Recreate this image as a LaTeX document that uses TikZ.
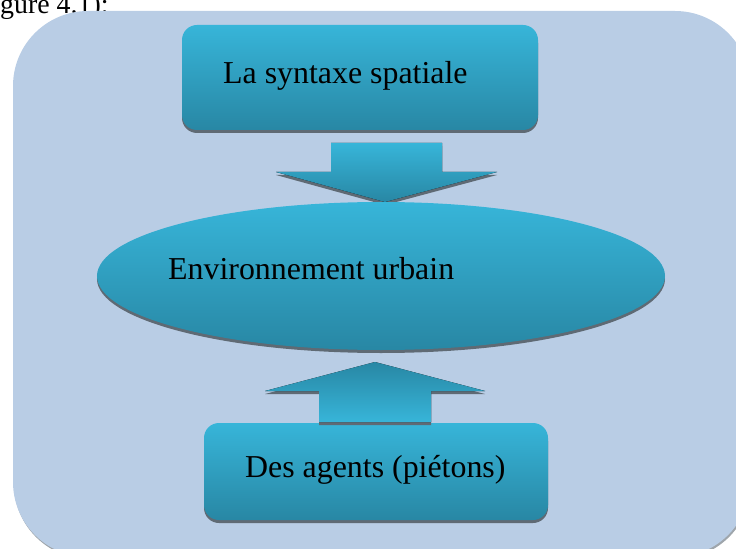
\documentclass[tikz,border=0pt]{standalone}
\usepackage{fontspec}
\setmainfont{Liberation Serif}
\usetikzlibrary{shapes.geometric}

\definecolor{panel}{HTML}{B9CDE5}
\definecolor{boxtop}{HTML}{37B5D9}
\definecolor{boxbot}{HTML}{2887A4}
\definecolor{shadowgrey}{HTML}{5F6A74}

\tikzset{
  dropshade/.style={preaction={fill=shadowgrey, transform canvas={yshift=-3bp}}},
  blockfill/.style={top color=boxtop, bottom color=boxbot, dropshade},
  blockfillup/.style={top color=boxbot, bottom color=boxtop, dropshade},
  boxshape/.style={rectangle, rounded corners=15bp, inner sep=0pt, blockfill},
  label/.style={inner sep=0pt, anchor=base west, font=\fontsize{32}{36}\selectfont},
}

\begin{document}
\begin{tikzpicture}[x=1bp, y=-1bp]
\useasboundingbox (0,0) rectangle (736,549);
\clip (0,0) rectangle (736,549);

% caption line above the panel
\node[inner sep=0pt, anchor=base west, font=\fontsize{28}{30}\selectfont] (caption) at (0,14) {gure 4.1):};

% light blue panel with a faint shadow along its lower edge
\fill[shadowgrey, opacity=0.6, rounded corners=75bp, transform canvas={xshift=1bp, yshift=-2bp}]
  (13,11) rectangle (750,557);
\fill[panel, rounded corners=75bp] (13,11) rectangle (750,557);

% top box
\node[boxshape, minimum width=356bp, minimum height=105bp] (syntax) at (360,77.5) {};
\node[label] (syntaxtext) at (223,84) {La syntaxe spatiale};

% down arrow
\fill[blockfill] (331,143) -- (442,143) -- (442,172) -- (497,172) -- (385,202)
  -- (276,172) -- (331,172) -- cycle;

% ellipse
\node[ellipse, inner sep=0pt, minimum width=568bp, minimum height=148bp, blockfill] (env) at (381,276) {};
\node[label] (envtext) at (168,280) {Environnement urbain};

% bottom box
\node[boxshape, minimum width=344bp, minimum height=97bp] (agents) at (376,471.5) {};
\node[label] (agentstext) at (245,477) {Des agents (piétons)};

% up arrow
\fill[blockfillup] (375,362) -- (485,391) -- (431,391) -- (431,422) -- (319,422)
  -- (319,391) -- (265,391) -- cycle;
\end{tikzpicture}
\end{document}
